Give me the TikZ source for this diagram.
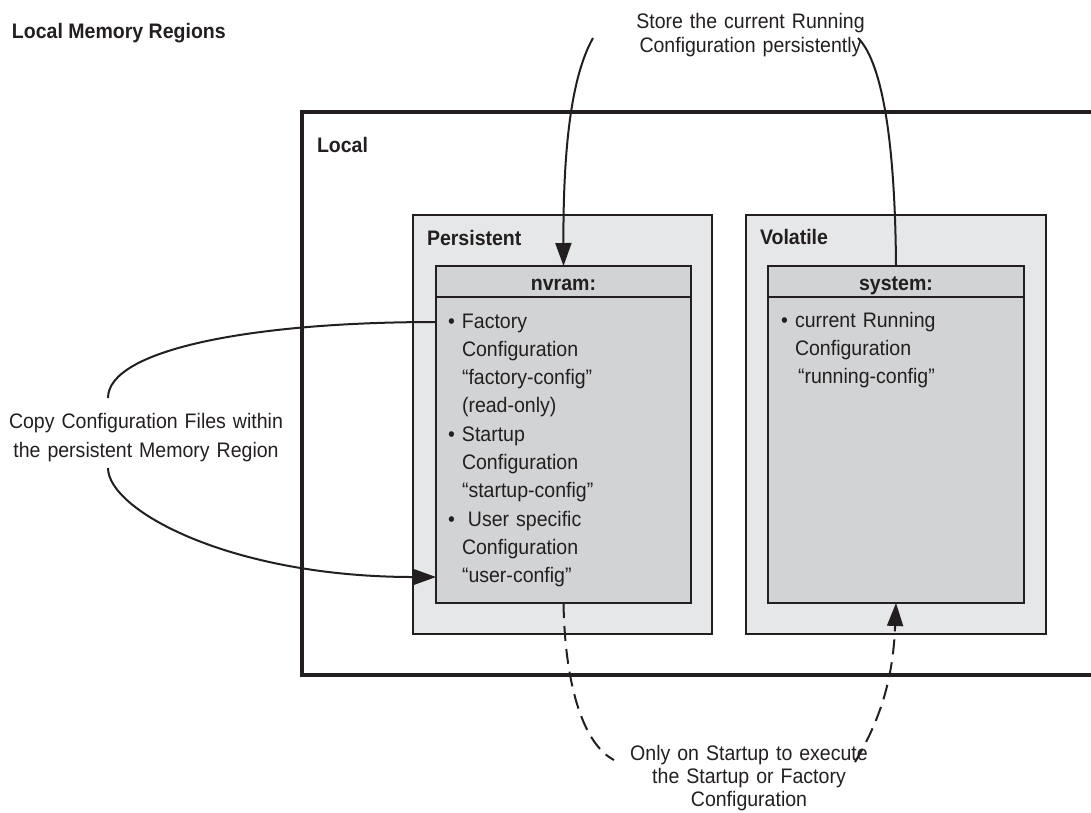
\documentclass[tikz,border=0pt]{standalone}
\usepackage{fontspec}
\setmainfont[FakeStretch=0.93]{Liberation Sans}
\usetikzlibrary{arrows.meta}
\definecolor{ink}{HTML}{231F20}
\definecolor{outerfill}{HTML}{E6E7E8}
\definecolor{innerfill}{HTML}{D1D3D4}
\newcommand{\itembul}{\leavevmode\llap{\textbullet\hspace{7pt}}}
\begin{document}
\begin{tikzpicture}[x=1pt,y=-1pt,
  every node/.style={inner sep=0pt,outer sep=0pt,text=ink},
  region/.style={draw=ink,line width=1.8pt,fill=outerfill,rectangle,anchor=north west},
  store/.style={draw=ink,line width=1.8pt,fill=innerfill,rectangle,anchor=north west},
  lbl/.style={font=\fontsize{21}{25}\selectfont\bfseries,anchor=base west},
  hdr/.style={font=\fontsize{21}{25}\selectfont\bfseries,anchor=base},
  conn/.style={draw=ink,line width=2pt},
  tip/.style={-{Triangle[length=23pt,width=16pt]}},
  dconn/.style={conn,dash pattern=on 15pt off 8pt}]
\useasboundingbox (0,0) rectangle (1091,812);

% title
\node[lbl] (title) at (12,38) {Local Memory Regions};

% Local region (open to the right edge)
\draw[draw=ink,line width=3.3pt] (1091,112) -- (302,112) -- (302,675) -- (1091,675);
\node[lbl] (local) at (317,152) {Local};

% Persistent / Volatile regions
\node[region,minimum width=299pt,minimum height=419pt] (persistent) at (413,215) {};
\node[region,minimum width=300pt,minimum height=419pt] (volatile) at (746,215) {};
\node[lbl] (perslbl) at (427,245) {Persistent};
\node[lbl] (vollbl) at (760,244) {Volatile};

% nvram: and system: stores
\node[store,minimum width=255pt,minimum height=337pt] (nvram) at (436,266) {};
\node[store,minimum width=256pt,minimum height=337pt] (system) at (768,266) {};
\draw[draw=ink,line width=1.8pt] ([yshift=-31pt]nvram.north west) -- ([yshift=-31pt]nvram.north east);
\draw[draw=ink,line width=1.8pt] ([yshift=-31pt]system.north west) -- ([yshift=-31pt]system.north east);
\node[hdr] (nvramhdr) at (563.5,290) {nvram:};
\node[hdr] (systemhdr) at (896,290) {system:};

% contents
\node[anchor=base west,text width=225pt,align=left,font=\fontsize{21}{28.33}\selectfont] (nvlist) at (462,328)
{\itembul Factory\\
Configuration\\
“factory-config”\\
(read-only)\\
\itembul Startup\\
Configuration\\
“startup-config”\\
\itembul\hspace*{6pt}User specific\\
Configuration\\
“user-config”};
\node[anchor=base west,text width=225pt,align=left,font=\fontsize{21}{28.33}\selectfont] (syslist) at (795,327)
{\itembul current Running\\
Configuration\\
\hspace*{3pt}“running-config”};

% labels
\node[anchor=base,text width=320pt,align=center,font=\fontsize{21}{24}\selectfont] (store) at (750.5,28)
{Store the current Running\\ Configuration persistently};
\node[anchor=base,text width=320pt,align=center,font=\fontsize{21}{29}\selectfont] (copy) at (146,428)
{Copy Configuration Files within\\ the persistent Memory Region};
\node[anchor=base,text width=320pt,align=center,font=\fontsize{21}{23}\selectfont] (only) at (749,760)
{Only on Startup to execute\\ the Startup or Factory\\ Configuration};

% connector end points
\coordinate (storeL) at (593,38);
\coordinate (storeR) at (858,38);
\coordinate (copyTop) at (108,398);
\coordinate (copyBot) at (108,468);
\coordinate (nvFactory) at (nvram.west |- 0,322);
\coordinate (nvUser) at (nvram.west |- 0,577);
\coordinate (onlyL) at (614,760);
\coordinate (onlyR) at (855,762);

% connectors
\draw[conn,tip] (storeL) .. controls (575,70) and (563,130) .. (nvram.north);
\draw[conn] (storeR) .. controls (880,60) and (895,130) .. (system.north);
\draw[conn] (nvFactory) .. controls (250,322) and (108,350) .. (copyTop);
\draw[conn,tip] (copyBot) .. controls (108,510) and (230,577) .. (nvUser);
\draw[dconn] (nvram.south) .. controls (565,690) and (585,745) .. (onlyL);
\draw[dconn,tip] (onlyR) .. controls (880,720) and (893,680) .. (system.south);
\end{tikzpicture}
\end{document}
